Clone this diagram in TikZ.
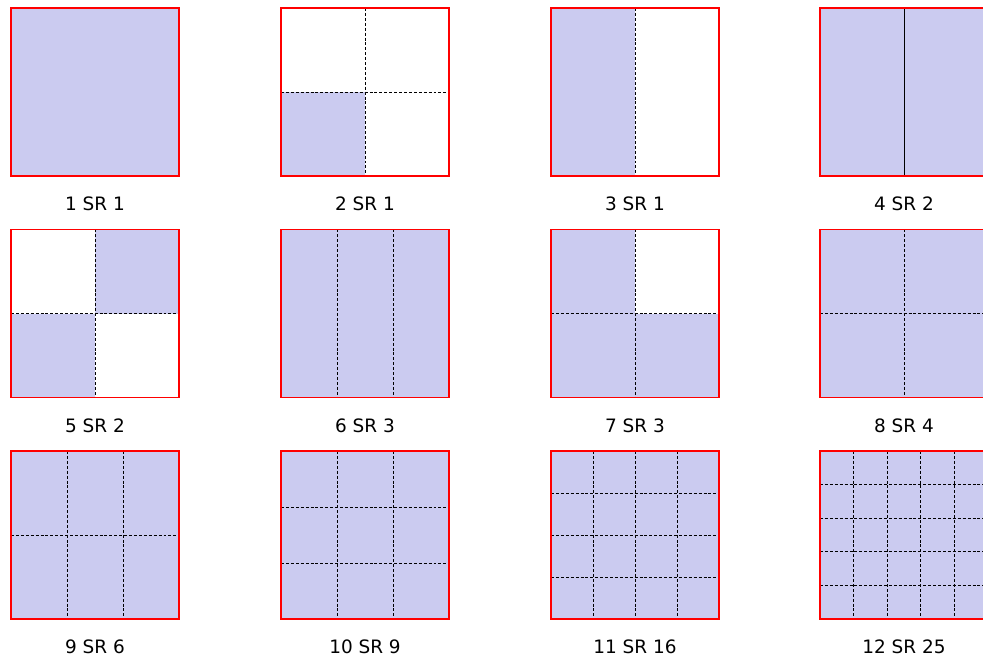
\documentclass[tikz,border=0pt]{standalone}
\usepackage{fontspec}
\setmainfont{DejaVu Sans}
\definecolor{srfill}{RGB}{203,203,240}
\tikzset{
  srbox/.style={draw=red, line width=1.1pt},
  srcell/.style={fill=srfill},
  srgrid/.style={black, line width=0.45pt, dash pattern=on 1.7pt off 1.1pt},
  srlabel/.style={font=\fontsize{10.5}{12}\selectfont, inner sep=0pt},
}
% dashed division lines: #1 columns, #2 rows
\newcommand{\srlines}[2]{%
  \foreach \k in {1,...,#1} {\ifnum\k<#1 \draw[srgrid] ({168*\k/#1},0) -- ({168*\k/#1},168);\fi}
  \foreach \k in {1,...,#2} {\ifnum\k<#2 \draw[srgrid] (0,{168*\k/#2}) -- (168,{168*\k/#2});\fi}
}
\begin{document}
\begin{tikzpicture}[x=0.02cm,y=-0.02cm]
\useasboundingbox (0,0) rectangle (983,660);
% first row
\begin{scope}[shift={(11,8)}]
  \fill[srcell] (0,0) rectangle (168,168);
  \draw[srbox] (0,0) rectangle (168,168);
  \node[srlabel] (l1) at (84,196) {1 SR 1};
\end{scope}
\begin{scope}[shift={(281,8)}]
  \fill[srcell] (0,84) rectangle (84,168);
  \srlines{2}{2}
  \draw[srbox] (0,0) rectangle (168,168);
  \node[srlabel] (l2) at (84,196) {2 SR 1};
\end{scope}
\begin{scope}[shift={(551,8)}]
  \fill[srcell] (0,0) rectangle (84,168);
  \srlines{2}{1}
  \draw[srbox] (0,0) rectangle (168,168);
  \node[srlabel] (l3) at (84,196) {3 SR 1};
\end{scope}
\begin{scope}[shift={(820,8)}]
  \fill[srcell] (0,0) rectangle (168,168);
  \draw[line width=0.45pt] (84,0) -- (84,168);
  \draw[srbox] (0,0) rectangle (168,168);
  \node[srlabel] (l4) at (84,196) {4 SR 2};
\end{scope}
% second row
\begin{scope}[shift={(11,229.5)}]
  \fill[srcell] (84,0) rectangle (168,84);
  \fill[srcell] (0,84) rectangle (84,168);
  \srlines{2}{2}
  \draw[srbox] (0,0) rectangle (168,168);
  \node[srlabel] (l5) at (84,196) {5 SR 2};
\end{scope}
\begin{scope}[shift={(281,229.5)}]
  \fill[srcell] (0,0) rectangle (168,168);
  \srlines{3}{1}
  \draw[srbox] (0,0) rectangle (168,168);
  \node[srlabel] (l6) at (84,196) {6 SR 3};
\end{scope}
\begin{scope}[shift={(551,229.5)}]
  \fill[srcell] (0,0) rectangle (84,168);
  \fill[srcell] (84,84) rectangle (168,168);
  \srlines{2}{2}
  \draw[srbox] (0,0) rectangle (168,168);
  \node[srlabel] (l7) at (84,196) {7 SR 3};
\end{scope}
\begin{scope}[shift={(820,229.5)}]
  \fill[srcell] (0,0) rectangle (168,168);
  \srlines{2}{2}
  \draw[srbox] (0,0) rectangle (168,168);
  \node[srlabel] (l8) at (84,196) {8 SR 4};
\end{scope}
% third row
\begin{scope}[shift={(11,451)}]
  \fill[srcell] (0,0) rectangle (168,168);
  \srlines{3}{2}
  \draw[srbox] (0,0) rectangle (168,168);
  \node[srlabel] (l9) at (84,196) {9 SR 6};
\end{scope}
\begin{scope}[shift={(281,451)}]
  \fill[srcell] (0,0) rectangle (168,168);
  \srlines{3}{3}
  \draw[srbox] (0,0) rectangle (168,168);
  \node[srlabel] (l10) at (84,196) {10 SR 9};
\end{scope}
\begin{scope}[shift={(551,451)}]
  \fill[srcell] (0,0) rectangle (168,168);
  \srlines{4}{4}
  \draw[srbox] (0,0) rectangle (168,168);
  \node[srlabel] (l11) at (84,196) {11 SR 16};
\end{scope}
\begin{scope}[shift={(820,451)}]
  \fill[srcell] (0,0) rectangle (168,168);
  \srlines{5}{5}
  \draw[srbox] (0,0) rectangle (168,168);
  \node[srlabel] (l12) at (84,196) {12 SR 25};
\end{scope}
\end{tikzpicture}
\end{document}
